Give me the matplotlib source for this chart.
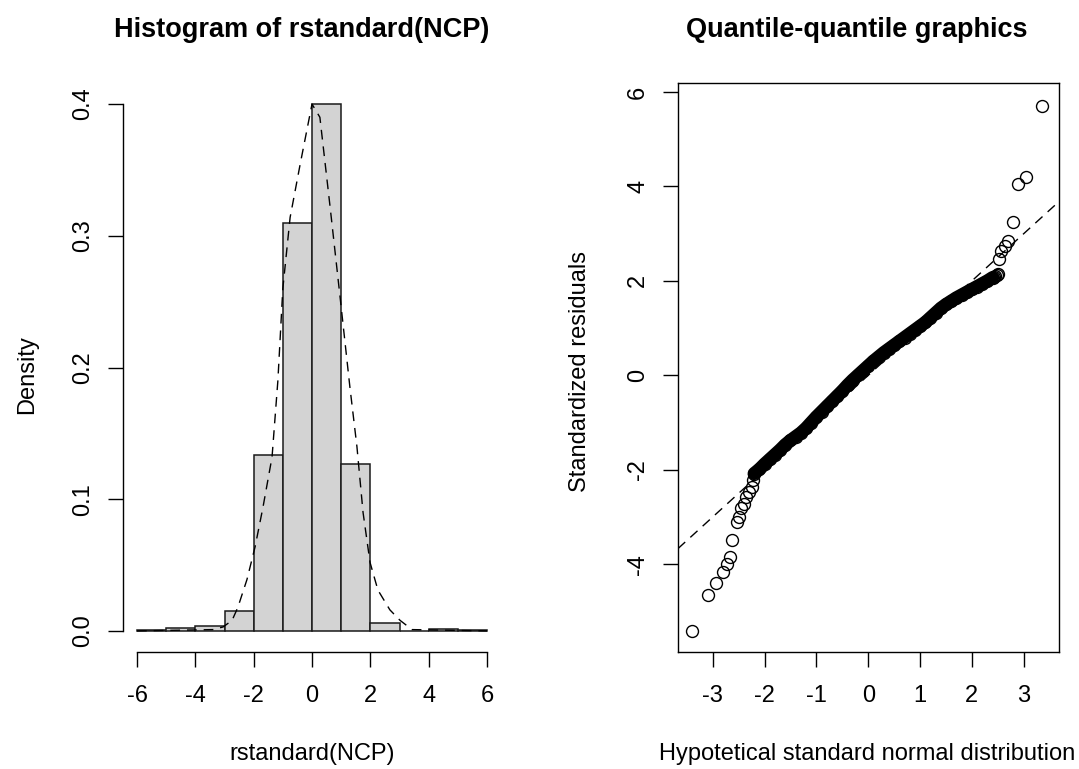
import numpy as np
import matplotlib
matplotlib.use('Agg')
import matplotlib.pyplot as plt

plt.rcParams['font.family'] = ['Liberation Sans', 'DejaVu Sans']
plt.rcParams['axes.unicode_minus'] = False

# histogram of standardized residuals (density per unit bin)
bin_left = [-6, -5, -4, -3, -2, -1, 0, 1, 2, 3, 4, 5]
bin_density = [0.0006, 0.0022, 0.0036, 0.0152, 0.1337, 0.310, 0.400, 0.1268, 0.0061, 0.0003, 0.0012, 0.0004]

# dashed density curve
dens_x = [-6, -3.4, -3.05, -2.74, -2.54, -2.23, -1.95, -1.68, -1.37, -1.17, -1.0, -0.75, -0.4, 0.0,
          0.27, 0.62, 0.96, 1.30, 1.54, 1.75, 1.99, 2.26, 2.67, 3.02, 3.43, 6]
dens_y = [0.0, 0.001, 0.003, 0.008, 0.018, 0.039, 0.064, 0.094, 0.132, 0.19, 0.26, 0.314, 0.355, 0.400,
          0.39, 0.322, 0.254, 0.185, 0.14, 0.09, 0.052, 0.031, 0.016, 0.008, 0.001, 0.0]

# QQ plot: lower tail points
low_x = [-3.40, -3.09, -2.93, -2.81, -2.72, -2.67, -2.62, -2.54, -2.50, -2.45, -2.40, -2.35, -2.30, -2.25, -2.22]
low_y = [-5.41, -4.65, -4.39, -4.16, -3.99, -3.85, -3.48, -3.11, -3.00, -2.82, -2.72, -2.58, -2.47, -2.37, -2.22]

# QQ plot: dense body (read along the band)
body_x = [-2.2, -2.1, -2.0, -1.9, -1.8, -1.7, -1.6, -1.5, -1.4, -1.3, -1.2, -1.1, -1.0, -0.9, -0.8, -0.7,
          -0.6, -0.5, -0.4, -0.3, -0.2, -0.1, 0.0, 0.1, 0.2, 0.3, 0.4, 0.5, 0.6, 0.7, 0.8, 0.9, 1.0, 1.1,
          1.2, 1.3, 1.4, 1.5, 1.6, 1.7, 1.8, 1.9, 2.0, 2.1, 2.2, 2.3, 2.4]
body_y = [-2.08, -1.99, -1.88, -1.78, -1.68, -1.58, -1.47, -1.38, -1.30, -1.22, -1.12, -1.00, -0.88, -0.77,
          -0.66, -0.55, -0.44, -0.33, -0.21, -0.10, 0.00, 0.10, 0.20, 0.30, 0.39, 0.48, 0.56, 0.64, 0.72,
          0.80, 0.88, 0.96, 1.04, 1.12, 1.22, 1.32, 1.42, 1.50, 1.57, 1.64, 1.70, 1.76, 1.82, 1.88, 1.94,
          2.00, 2.07]

# QQ plot: upper tail points
high_x = [2.42, 2.45, 2.48, 2.51, 2.52, 2.57, 2.63, 2.70, 2.79, 2.89, 3.05, 3.36]
high_y = [2.09, 2.11, 2.13, 2.15, 2.46, 2.64, 2.74, 2.85, 3.24, 4.05, 4.19, 5.70]

qq_intercept = 0.0
qq_slope = 1.0

W, H = 1079, 769


def box(l, t, r, b):
    return [l / W, 1 - b / H, (r - l) / W, (b - t) / H]


fig = plt.figure(figsize=(W / 100, H / 100), dpi=100)
ax1 = fig.add_axes(box(123, 83, 501, 652))
ax2 = fig.add_axes(box(678, 83, 1058.5, 652))

fs = 17

# ---- histogram ----
ax1.bar(bin_left, bin_density, width=1, align='edge', color='#D3D3D3', edgecolor='#1a1a1a', linewidth=1.1)
ax1.plot(dens_x, dens_y, color='black', linestyle=(0, (7, 5)), linewidth=1.0)
ax1.set_xlim(-6.48, 6.48)
ax1.set_ylim(-0.016, 0.416)
ax1.set_xticks([-6, -4, -2, 0, 2, 4, 6])
ax1.set_yticks([0.0, 0.1, 0.2, 0.3, 0.4])
ax1.set_yticklabels(['0.0', '0.1', '0.2', '0.3', '0.4'])
for s in ['top', 'right']:
    ax1.spines[s].set_visible(False)
ax1.spines['left'].set_bounds(0, 0.4)
ax1.spines['bottom'].set_bounds(-6, 6)

# ---- QQ plot ----
ax2.plot(body_x, body_y, color='black', linewidth=9.5, solid_capstyle='round', zorder=2)
ax2.plot(low_x + body_x + high_x, low_y + body_y + high_y, linestyle='none', marker='o',
         markersize=8.6, markerfacecolor='none', markeredgecolor='black', markeredgewidth=1.0, zorder=3)
ax2.axline((0, qq_intercept), slope=qq_slope, color='black', linestyle=(0, (7, 5)), linewidth=1.0)
ax2.set_xlim(-3.67, 3.67)
ax2.set_ylim(-5.86, 6.19)
ax2.set_xticks([-3, -2, -1, 0, 1, 2, 3])
ax2.set_yticks([-4, -2, 0, 2, 4, 6])

for ax in (ax1, ax2):
    for sp in ax.spines.values():
        sp.set_linewidth(1.0)
    ax.tick_params(axis='both', length=10.8, width=1.0, labelsize=fs)
    ax.tick_params(axis='x', pad=13)
    ax.tick_params(axis='y', pad=10, labelrotation=90)
    plt.setp(ax.get_yticklabels(), va='center')

# titles and axis labels
fig.text(302 / W, 1 - 37 / H, 'Histogram of rstandard(NCP)', ha='center', va='baseline',
         fontsize=19.5, fontweight='bold')
fig.text(857 / W, 1 - 37 / H, 'Quantile-quantile graphics', ha='center', va='baseline',
         fontsize=19.5, fontweight='bold')
fig.text(312 / W, 1 - 760 / H, 'rstandard(NCP)', ha='center', va='baseline', fontsize=fs)
fig.text(867 / W, 1 - 760 / H, 'Hypotetical standard normal distribution', ha='center', va='baseline', fontsize=fs)
fig.text(27 / W, 1 - 375 / H, 'Density', ha='center', va='center', rotation=90, fontsize=fs)
fig.text(580 / W, 1 - 372 / H, 'Standardized residuals', ha='center', va='center', rotation=90, fontsize=fs)

fig.savefig('out.png', dpi=100)
